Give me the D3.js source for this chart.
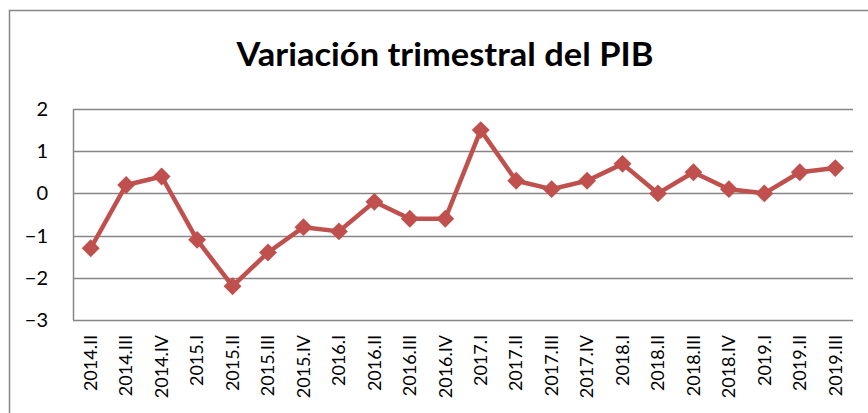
<!DOCTYPE html>
<html>
<head>
<meta charset="utf-8">
<script src="https://cdn.jsdelivr.net/npm/d3@7"></script>
<style>
  body { margin: 0; background: #fff; }
  text { font-family: Lato, "Open Sans", sans-serif; fill: #000; }
</style>
</head>
<body>
<div id="chart"></div>
<script>
var WIDTH = 868, HEIGHT = 413;

// quarters and quarterly GDP change
var quarters = ['2014.II', '2014.III', '2014.IV', '2015.I', '2015.II', '2015.III', '2015.IV',
    '2016.I', '2016.II', '2016.III', '2016.IV', '2017.I', '2017.II', '2017.III', '2017.IV',
    '2018.I', '2018.II', '2018.III', '2018.IV', '2019.I', '2019.II', '2019.III'];
var variacion = [-1.3, 0.2, 0.4, -1.1, -2.2, -1.4, -0.8, -0.9, -0.2, -0.6, -0.6,
    1.5, 0.3, 0.1, 0.3, 0.7, 0.0, 0.5, 0.1, 0.0, 0.5, 0.6];
var yTicks = [-3, -2, -1, 0, 1, 2];

var LINE_COLOR = '#C0504D';
var GRID_COLOR = '#868686';

var margin = {top: 109, right: 15, bottom: 93, left: 73};

var svg = d3.select('#chart')
    .append('svg')
    .attr('width', WIDTH)
    .attr('height', HEIGHT);

//outer chart frame (right and bottom edges fall outside the window)
svg.append('rect')
    .attr('x', 9.5)
    .attr('y', 10.5)
    .attr('width', 900)
    .attr('height', 440)
    .attr('fill', 'none')
    .attr('stroke', GRID_COLOR)
    .attr('stroke-width', 1.5);

//title
svg.append('text')
    .attr('x', 445)
    .attr('y', 66)
    .attr('text-anchor', 'middle')
    .attr('textLength', 417)
    .attr('lengthAdjust', 'spacingAndGlyphs')
    .style('font-weight', 'bold')
    .style('font-size', '32px')
    .text('Variación trimestral del PIB');

var x = d3.scaleBand()
    .domain(quarters)
    .range([margin.left, WIDTH - margin.right]);

var y = d3.scaleLinear()
    .domain([-3, 2])
    .range([HEIGHT - margin.bottom, margin.top]);

//gridlines
svg.append('g')
    .attr('class', 'grid')
    .selectAll('line')
    .data(yTicks)
    .enter()
    .append('line')
    .attr('x1', margin.left)
    .attr('x2', WIDTH - margin.right)
    .attr('y1', function(d) { return Math.round(y(d)) + 0.5; })
    .attr('y2', function(d) { return Math.round(y(d)) + 0.5; })
    .attr('stroke', GRID_COLOR)
    .attr('stroke-width', 1.5);

//left axis line
svg.append('line')
    .attr('x1', margin.left + 0.5)
    .attr('x2', margin.left + 0.5)
    .attr('y1', y(2))
    .attr('y2', y(-3))
    .attr('stroke', GRID_COLOR)
    .attr('stroke-width', 1.5);

//y labels
var yAxis = d3.axisLeft(y)
    .tickValues(yTicks)
    .tickFormat(d3.format('d'))
    .tickSize(0)
    .tickPadding(25);
var yG = svg.append('g')
    .attr('transform', 'translate(' + margin.left + ',0)')
    .call(yAxis)
    .attr('font-size', 20);
yG.select('.domain').remove();
yG.selectAll('text')
    .style('font-family', 'Lato, "Open Sans", sans-serif')
    .style('font-size', '20px')
    .attr('fill', '#000');

//x labels, rotated
var xAxis = d3.axisBottom(x).tickSize(0).tickPadding(0);
var xG = svg.append('g')
    .attr('transform', 'translate(0,' + (HEIGHT - margin.bottom) + ')')
    .call(xAxis);
xG.select('.domain').remove();
xG.selectAll('text')
    .style('font-family', 'Lato, "Open Sans", sans-serif')
    .style('font-size', '18px')
    .attr('fill', '#000')
    .attr('text-anchor', 'end')
    .attr('transform', 'rotate(-90)')
    .attr('x', -15)
    .attr('y', 0)
    .attr('dy', '0.35em');

//series line
var line = d3.line()
    .x(function(d, i) { return x(quarters[i]) + x.bandwidth() / 2; })
    .y(function(d) { return y(d); });

svg.append('path')
    .datum(variacion)
    .attr('d', line)
    .attr('fill', 'none')
    .attr('stroke', LINE_COLOR)
    .attr('stroke-width', 4.5)
    .attr('stroke-linejoin', 'round');

//diamond markers
var diamond = d3.symbol().type(d3.symbolSquare).size(160);
svg.append('g')
    .selectAll('path')
    .data(variacion)
    .enter()
    .append('path')
    .attr('d', diamond)
    .attr('fill', LINE_COLOR)
    .attr('transform', function(d, i) {
        return 'translate(' + (x(quarters[i]) + x.bandwidth() / 2) + ',' + y(d) + ') rotate(45)';
    });
</script>
</body>
</html>
